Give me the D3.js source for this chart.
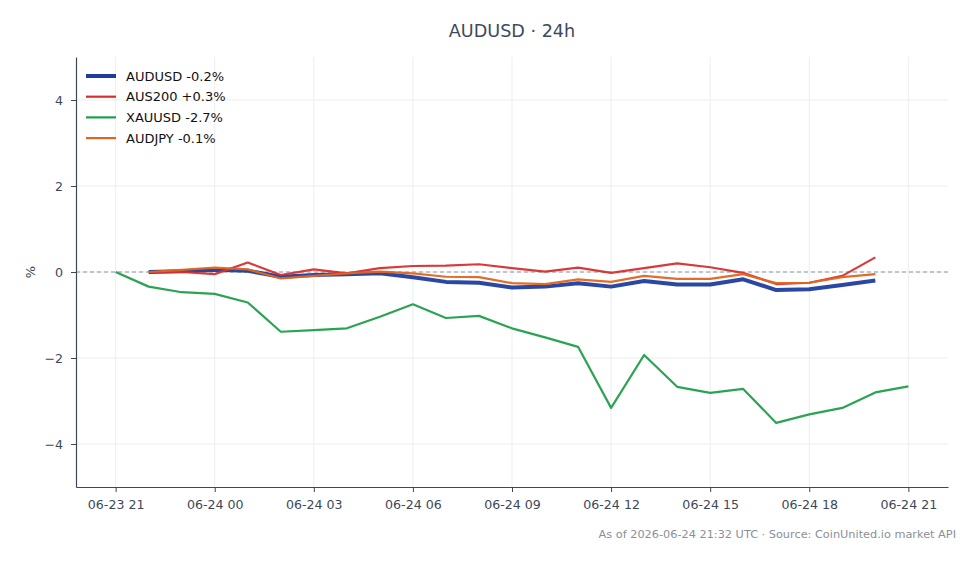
<!DOCTYPE html>
<html lang="en">
<head>
    <meta charset="UTF-8">
    <title>AUDUSD · 24h</title>
    <script src="https://d3js.org/d3.v7.min.js"></script>
    <style>
        body { margin: 0; background: #fff; }
        svg { font-family: "DejaVu Sans", sans-serif; }
    </style>
</head>
<body>
    <div class="chart"></div>
    <script>
        // hours from 06-23 21:00 UTC
        const hours = d3.range(0, 25);
        const xTickLabels = ["06-23 21", "06-24 00", "06-24 03", "06-24 06", "06-24 09", "06-24 12", "06-24 15", "06-24 18", "06-24 21"];
        const yTicks = [-4, -2, 0, 2, 4];

        const seriesLabels = ["AUDUSD -0.2%", "AUS200 +0.3%", "XAUUSD -2.7%", "AUDJPY -0.1%"];
        const seriesColors = ["#1f3d9e", "#d62f2f", "#1f9e4a", "#e0651f"];
        const seriesWidths = [4, 2.2, 2.2, 2.2];

        // % change per hour, null = no data at that hour
        const audusd = [null, 0, 0.02, 0.05, 0.03, -0.11, -0.07, -0.05, -0.03, -0.12, -0.23, -0.25, -0.36, -0.34, -0.26, -0.34, -0.21, -0.29, -0.29, -0.17, -0.42, -0.40, -0.30, -0.20, null];
        const aus200 = [null, 0, 0.00, -0.05, 0.22, -0.07, 0.06, -0.03, 0.09, 0.14, 0.15, 0.18, 0.09, 0.01, 0.10, -0.02, 0.09, 0.20, 0.11, -0.02, -0.28, -0.25, -0.09, 0.34, null];
        const xauusd = [0, -0.34, -0.47, -0.51, -0.71, -1.39, -1.35, -1.31, -1.04, -0.75, -1.07, -1.02, -1.31, -1.52, -1.74, -3.16, -1.93, -2.67, -2.81, -2.72, -3.51, -3.31, -3.16, -2.80, -2.66];
        const audjpy = [null, 0, 0.05, 0.10, 0.06, -0.15, -0.09, -0.03, 0.01, -0.03, -0.11, -0.12, -0.26, -0.28, -0.17, -0.23, -0.09, -0.16, -0.16, -0.05, -0.26, -0.25, -0.12, -0.05, null];

        const seriesValues = [audusd, aus200, xauusd, audjpy];

        const w = 980, h = 564;
        const margin = { top: 57, right: 32, bottom: 77, left: 76 };

        const svg = d3.select(".chart").append("svg").attr("width", w).attr("height", h);

        const pad = 24 * 0.05;
        const xScale = d3.scaleLinear()
            .domain([0 - pad, 24 + pad])
            .range([margin.left, w - margin.right]);

        const yScale = d3.scaleLinear()
            .domain([-5, 5])
            .range([h - margin.bottom, margin.top]);

        // grid
        svg.append("g").selectAll("line")
            .data(yTicks)
            .enter().append("line")
            .attr("x1", margin.left).attr("x2", w - margin.right)
            .attr("y1", d => yScale(d)).attr("y2", d => yScale(d))
            .attr("stroke", "#ebedf0").attr("stroke-width", 1);

        svg.append("g").selectAll("line")
            .data(d3.range(0, 25, 3))
            .enter().append("line")
            .attr("x1", d => xScale(d)).attr("x2", d => xScale(d))
            .attr("y1", margin.top).attr("y2", h - margin.bottom)
            .attr("stroke", "#ebedf0").attr("stroke-width", 1);

        // zero line
        svg.append("line")
            .attr("x1", margin.left).attr("x2", w - margin.right)
            .attr("y1", yScale(0)).attr("y2", yScale(0))
            .attr("stroke", "#8a94a8").attr("stroke-width", 1)
            .attr("stroke-dasharray", "4,3");

        // axes
        const xAxis = d3.axisBottom(xScale)
            .tickValues(d3.range(0, 25, 3))
            .tickFormat((d, i) => xTickLabels[i])
            .tickSize(5).tickSizeOuter(0).tickPadding(8);

        const yAxis = d3.axisLeft(yScale)
            .tickValues(yTicks)
            .tickFormat(d => d < 0 ? "\u2212" + Math.abs(d) : d)
            .tickSize(5).tickSizeOuter(0).tickPadding(8);

        const gx = svg.append("g")
            .attr("transform", `translate(0, ${h - margin.bottom})`)
            .call(xAxis);
        const gy = svg.append("g")
            .attr("transform", `translate(${margin.left}, 0)`)
            .call(yAxis);

        [gx, gy].forEach(g => {
            g.select(".domain").attr("stroke", "#3d4757").attr("stroke-width", 1.2);
            g.selectAll(".tick line").attr("stroke", "#3d4757");
            g.selectAll(".tick text").attr("fill", "#3d4757").style("font-size", "12.6px")
                .style("font-family", "DejaVu Sans, sans-serif");
        });

        // lines
        const line = d3.line()
            .defined(d => d.v !== null)
            .x(d => xScale(d.t))
            .y(d => yScale(d.v));

        seriesValues.forEach((vals, i) => {
            svg.append("path")
                .datum(hours.map((t, j) => ({ t: t, v: vals[j] })))
                .attr("fill", "none")
                .attr("stroke", seriesColors[i])
                .attr("stroke-width", seriesWidths[i])
                .attr("stroke-linejoin", "round")
                .attr("stroke-opacity", 0.95)
                .attr("d", line);
        });

        // legend
        const legend = svg.append("g").attr("transform", "translate(86, 76)");
        seriesLabels.forEach((lab, i) => {
            const row = legend.append("g").attr("transform", `translate(0, ${i * 20.7})`);
            row.append("line")
                .attr("x1", 0).attr("x2", 30)
                .attr("stroke", seriesColors[i])
                .attr("stroke-width", seriesWidths[i]);
            row.append("text")
                .attr("x", 40).attr("y", 4.5)
                .attr("fill", "#111")
                .style("font-size", "13px")
                .text(lab);
        });

        // title
        svg.append("text")
            .attr("x", 512).attr("y", 37)
            .attr("text-anchor", "middle")
            .attr("fill", "#3d4a5c")
            .style("font-size", "17.6px")
            .text("AUDUSD · 24h");

        // y label
        svg.append("text")
            .attr("transform", `translate(35, ${yScale(0)}) rotate(-90)`)
            .attr("text-anchor", "middle")
            .attr("fill", "#3d4757")
            .style("font-size", "13px")
            .text("%");

        // footer
        svg.append("text")
            .attr("x", 956).attr("y", 538)
            .attr("text-anchor", "end")
            .attr("fill", "#8a8f98")
            .style("font-size", "11.3px")
            .text("As of 2026-06-24 21:32 UTC · Source: CoinUnited.io market API");
    </script>
</body>
</html>
